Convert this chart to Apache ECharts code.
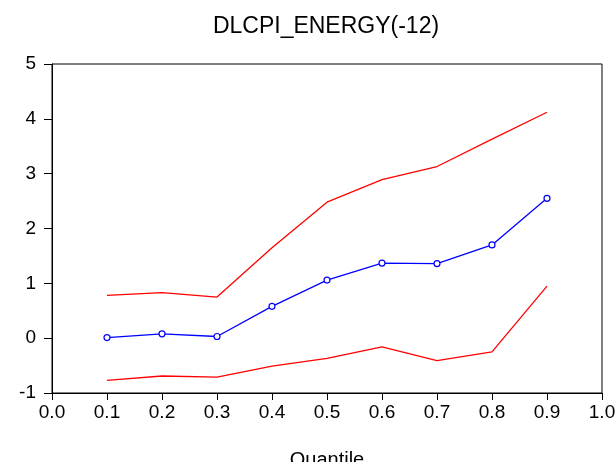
<!DOCTYPE html>
<html>
<head>
<meta charset="utf-8">
<script src="https://cdn.jsdelivr.net/npm/echarts@6/dist/echarts.min.js"></script>
<style>
  html, body { margin: 0; padding: 0; background: #fff; }
  #chart { width: 615px; height: 462px; }
</style>
</head>
<body>
<div id="chart"></div>
<script>
// quantiles on the x axis
var quantiles = [0.1, 0.2, 0.3, 0.4, 0.5, 0.6, 0.7, 0.8, 0.9]
// coefficient estimate (blue) and confidence bounds (red)
var estimate = [0.01, 0.08, 0.03, 0.58, 1.06, 1.37, 1.36, 1.70, 2.55]
var upperBound = [0.78, 0.83, 0.75, 1.65, 2.48, 2.89, 3.13, 3.63, 4.12]
var lowerBound = [-0.77, -0.69, -0.71, -0.51, -0.37, -0.16, -0.41, -0.25, 0.95]

function pairs(ys) {
    return quantiles.map(function (q, i) {
        return [q, ys[i]]
    })
}

var myChart = echarts.init(document.getElementById('chart'))
var font = 'Liberation Sans, Arial, sans-serif'
var option = {
    animation: false,
    title: {
        text: 'DLCPI_ENERGY(-12)',
        left: 321,
        textAlign: 'center',
        top: 10,
        textStyle: {
            fontFamily: font,
            fontSize: 23,
            fontWeight: 'normal',
            color: '#000',
        },
    },
    grid: {
        left: 52,
        right: 13,
        top: 64,
        bottom: 69,
        outerBoundsMode: 'none',
        containLabel: false,
        show: true,
        borderColor: '#000',
        borderWidth: 1,
    },
    xAxis: {
        type: 'value',
        min: 0,
        max: 1,
        interval: 0.1,
        name: 'Quantile',
        nameLocation: 'middle',
        nameGap: 57,
        nameTextStyle: { fontFamily: font, fontSize: 20, color: '#000' },
        axisLine: { show: true, onZero: false, lineStyle: { color: '#000', width: 1 } },
        axisTick: { show: true, length: 7, lineStyle: { color: '#000' } },
        axisLabel: {
            fontFamily: font,
            fontSize: 19,
            color: '#000',
            margin: 10,
            formatter: function (v) {
                return v.toFixed(1)
            },
        },
        splitLine: { show: false },
    },
    yAxis: {
        type: 'value',
        min: -1,
        max: 5,
        interval: 1,
        axisLine: { show: true, onZero: false, lineStyle: { color: '#000', width: 1 } },
        axisTick: { show: true, length: 8, lineStyle: { color: '#000' } },
        axisLabel: {
            fontFamily: font,
            fontSize: 19,
            color: '#000',
            margin: 16,
        },
        splitLine: { show: false },
    },
    series: [
        {
            type: 'line',
            data: pairs(upperBound),
            symbol: 'none',
            lineStyle: { color: '#ff0000', width: 1.3 },
            z: 2,
        },
        {
            type: 'line',
            data: pairs(lowerBound),
            symbol: 'none',
            lineStyle: { color: '#ff0000', width: 1.3 },
            z: 2,
        },
        {
            type: 'line',
            data: pairs(estimate),
            symbol: 'circle',
            symbolSize: 6,
            itemStyle: { color: '#fff', borderColor: '#0000ff', borderWidth: 1.2 },
            lineStyle: { color: '#0000ff', width: 1.3 },
            z: 3,
        },
    ],
}
myChart.setOption(option)
</script>
</body>
</html>
